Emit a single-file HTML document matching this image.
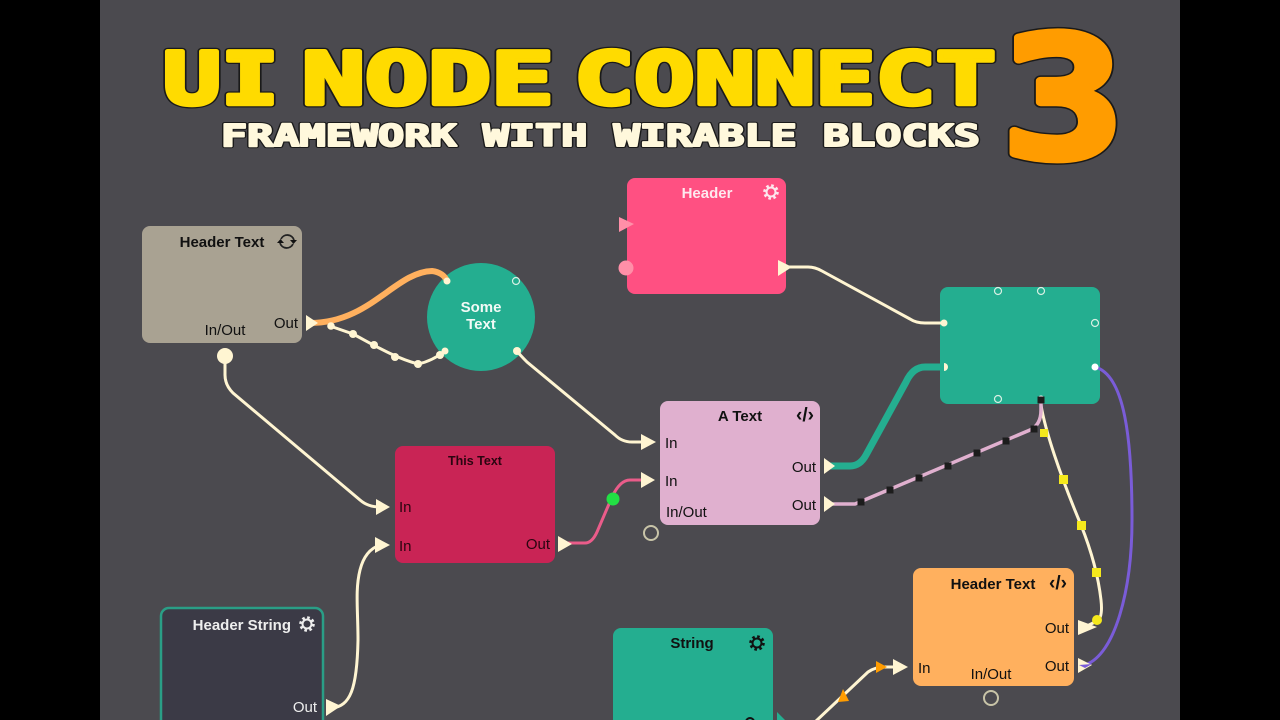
<!DOCTYPE html>
<html><head><meta charset="utf-8"><style>
html,body{margin:0;padding:0;background:#000;width:1280px;height:720px;overflow:hidden}
svg{display:block}
text{font-family:"Liberation Sans",sans-serif}
.l{font-size:15px;fill:#111}
.b{font-size:15px;font-weight:bold;fill:#111}
.m{font-family:"DejaVu Sans Mono","Liberation Mono",monospace;font-weight:bold;stroke-linejoin:round}
.t1{fill:#1a1a1a;stroke:#1a1a1a;stroke-width:7px}
.t2{fill:#ffdb00;stroke:#ffdb00;stroke-width:4.5px}
.s1{fill:#1a1a1a;stroke:#1a1a1a;stroke-width:4px}
.s2{fill:#fff8dc;stroke:#fff8dc;stroke-width:2px}
.w{fill:none;stroke:#fff5d2;stroke-width:3;stroke-linecap:round;stroke-linejoin:round}
.r{fill:none;stroke:#d8f0e4;stroke-width:1.2}
</style></head><body>
<svg width="1280" height="720" viewBox="0 0 1280 720" xmlns="http://www.w3.org/2000/svg">
<rect width="1280" height="720" fill="#000"/>
<rect x="100" width="1080" height="720" fill="#4b4a4f"/>

<!-- title -->
<g font-size="72">
<text class="m t1" x="163" y="104" textLength="116" lengthAdjust="spacingAndGlyphs">UI</text>
<text class="m t2" x="163" y="104" textLength="116" lengthAdjust="spacingAndGlyphs">UI</text>
<text class="m t1" x="302" y="104" textLength="252" lengthAdjust="spacingAndGlyphs">NODE</text>
<text class="m t2" x="302" y="104" textLength="252" lengthAdjust="spacingAndGlyphs">NODE</text>
<text class="m t1" x="574" y="104" textLength="422" lengthAdjust="spacingAndGlyphs">CONNECT</text>
<text class="m t2" x="574" y="104" textLength="422" lengthAdjust="spacingAndGlyphs">CONNECT</text>
</g>
<g font-size="30">
<text class="m s1" x="221" y="146" textLength="759" lengthAdjust="spacingAndGlyphs">FRAMEWORK WITH WIRABLE BLOCKS</text>
<text class="m s2" x="221" y="146" textLength="759" lengthAdjust="spacingAndGlyphs">FRAMEWORK WITH WIRABLE BLOCKS</text>
</g>
<g font-size="168">
<text class="m" x="1002" y="157" textLength="122" lengthAdjust="spacingAndGlyphs" style="fill:#1a1a1a;stroke:#1a1a1a;stroke-width:11px">3</text>
<text class="m" x="1002" y="157" textLength="122" lengthAdjust="spacingAndGlyphs" style="fill:#ff9c00;stroke:#ff9c00;stroke-width:8px">3</text>
</g>

<!-- nodes -->
<rect x="142" y="226" width="160" height="117" rx="8" fill="#a9a292"/>
<circle cx="481" cy="317" r="54" fill="#24ae90"/>
<rect x="627" y="178" width="159" height="116" rx="8" fill="#ff5082"/>
<rect x="940" y="287" width="160" height="117" rx="8" fill="#24ae90"/>
<rect x="660" y="401" width="160" height="124" rx="8" fill="#e0b0cf"/>
<rect x="395" y="446" width="160" height="117" rx="8" fill="#c92455"/>
<rect x="161" y="608" width="162" height="130" rx="8" fill="#3b3a46" stroke="#2a9e86" stroke-width="2.500"/>
<rect x="613" y="628" width="160" height="120" rx="8" fill="#24ae90"/>
<rect x="913" y="568" width="161" height="118" rx="8" fill="#ffb05e"/>

<!-- connectors -->
<path class="w" d="M225 356V375Q225 385 233 393L360 500Q368 507 380 507"/>
<path class="w" d="M517 351Q520 355 527 362L615 435Q622 442 632 442H645"/>
<path class="w" d="M785 267H808Q815 267 822 271L910 319Q916 323 925 323H944"/>
<path class="w" d="M332 708C350 706 357 690 358 640C358 610 355 590 360 570Q365 550 380 545"/>
<path class="w" d="M815 722L868 672Q875 667 885 667H897"/>
<path d="M330 326L353 334C372 344 395 358 418 364C428 362 436 358 445 351" fill="none" stroke="#fff5d2" stroke-width="3"/>
<path d="M310 323C370 323 395 272 432 271C440 272 445 276 447 281" fill="none" stroke="#ffb05e" stroke-width="6" stroke-linecap="round"/>
<path d="M567 543H585Q592 543 597 532L612 497Q620 480 630 480H647" fill="none" stroke="#ea5c8a" stroke-width="3"/>
<path d="M828 466H850Q860 466 866 455L906 382Q913 367 925 367H944" fill="none" stroke="#24ae90" stroke-width="7"/>
<path d="M1041 405C1045 430 1060 475 1081 525Q1097 565 1101 600Q1103 618 1097 621L1085 627" class="w"/>
<path d="M830 504H855L1030 430Q1041 425 1041 410V400" fill="none" stroke="#e0b0cf" stroke-width="3.5"/>
<path d="M1095 367C1125 375 1132 440 1132 520C1132 590 1115 655 1085 665" fill="none" stroke="#7a5cd8" stroke-width="3"/>

<!-- arrows -->
<g fill="#fff5d2">
<path d="M306 315V331L318 323Z"/>
<path d="M376 499L390 507L376 515Z"/>
<path d="M641 434L656 442L641 450Z"/>
<path d="M641 472L655 480L641 488Z"/>
<path d="M558 536V552L572 544Z"/>
<path d="M778 260V276L792 267Z"/>
<path d="M824 458V474L835 466Z"/>
<path d="M824 496V512L835 504Z"/>
<path d="M1078 620V635L1097 627Z"/>
<path d="M1078 658V673L1092 665Z"/>
<path d="M375 537L390 545L375 553Z"/>
<path d="M326 699L341 706L326 716Z"/>
<path d="M893 659L908 667L893 675Z"/>
<circle cx="225" cy="356" r="8"/>
<circle cx="447" cy="281" r="3.5"/>
<circle cx="445" cy="351" r="3.5"/>
<circle cx="517" cy="351" r="4"/>
<circle cx="944" cy="323" r="3.5"/>
<path d="M944 363A4 4 0 0 1 944 371Z"/>
<circle cx="331" cy="326" r="3.8"/><circle cx="353" cy="334" r="4"/><circle cx="374" cy="345" r="4"/><circle cx="395" cy="357" r="4"/><circle cx="418" cy="364" r="4"/><circle cx="440" cy="355" r="4"/>
</g>
<circle cx="1095" cy="367" r="3.5" fill="#fff"/>
<circle cx="1041" cy="399" r="3.5" fill="#fff"/>
<path d="M1079 665L1092 664L1085 668Z" fill="#7a5cd8"/>
<path d="M619 217V232L634 224Z" fill="#ff8fa8"/>
<circle cx="626" cy="268" r="7.5" fill="#ff8fa8"/>
<circle cx="613" cy="499" r="6.5" fill="#22e044"/>
<circle cx="651" cy="533" r="7" fill="none" stroke="#c8c4a8" stroke-width="2"/>
<circle cx="991" cy="698" r="7" fill="none" stroke="#c8c4a8" stroke-width="2"/>
<circle class="r" cx="516" cy="281" r="3.5"/>
<circle class="r" cx="998" cy="291" r="3.5"/>
<circle class="r" cx="1041" cy="291" r="3.5"/>
<circle class="r" cx="1095" cy="323" r="3.5"/>
<circle class="r" cx="998" cy="399" r="3.5"/>

<!-- squares -->
<g fill="#1c1c1c">
<rect x="857.500" y="498.500" width="7" height="7"/><rect x="886.500" y="486.500" width="7" height="7"/><rect x="915.500" y="474.500" width="7" height="7"/><rect x="944.500" y="462.500" width="7" height="7"/><rect x="973.500" y="449.500" width="7" height="7"/><rect x="1002.500" y="437.500" width="7" height="7"/><rect x="1030.500" y="425.500" width="7" height="7"/><rect x="1037.500" y="396.500" width="7" height="7"/>
</g>
<g fill="#f5e91c">
<rect x="1040" y="429" width="8" height="8"/><rect x="1059" y="475" width="9" height="9"/><rect x="1077" y="521" width="9" height="9"/><rect x="1092" y="568" width="9" height="9"/><circle cx="1097" cy="620" r="5"/>
</g>
<g fill="#ff9c00">
<path d="M843 689L849 701L838 702Z"/>
<path d="M876 661L887 667L876 673Z"/>
</g>
<path d="M777 712L785 720H777Z" fill="#24ae90"/>
<circle cx="750" cy="722" r="4" fill="none" stroke="#111" stroke-width="2"/>

<!-- labels -->
<text class="b" x="222" y="247" text-anchor="middle">Header Text</text>
<text class="l" x="298" y="328" text-anchor="end">Out</text>
<text class="l" x="225" y="335" text-anchor="middle">In/Out</text>
<text class="b" x="481" y="312" text-anchor="middle" style="fill:#f2faf6">Some</text>
<text class="b" x="481" y="329" text-anchor="middle" style="fill:#f2faf6">Text</text>
<text class="b" x="707" y="198" text-anchor="middle" style="fill:#fde8ee">Header</text>
<text class="b" x="740" y="421" text-anchor="middle">A Text</text>
<text class="l" x="665" y="448">In</text>
<text class="l" x="665" y="486">In</text>
<text class="l" x="666" y="517">In/Out</text>
<text class="l" x="816" y="472" text-anchor="end">Out</text>
<text class="l" x="816" y="510" text-anchor="end">Out</text>
<text x="475" y="465" text-anchor="middle" font-size="12.500" font-weight="bold" fill="#2a0510">This Text</text>
<text class="l" x="399" y="512" style="fill:#2a0510">In</text>
<text class="l" x="399" y="551" style="fill:#2a0510">In</text>
<text class="l" x="550" y="549" text-anchor="end" style="fill:#2a0510">Out</text>
<text class="b" x="291" y="630" text-anchor="end" style="fill:#eee">Header String</text>
<text class="l" x="317" y="712" text-anchor="end" style="fill:#eee">Out</text>
<text class="b" x="692" y="648" text-anchor="middle">String</text>
<text class="b" x="993" y="589" text-anchor="middle">Header Text</text>
<text class="l" x="1069" y="633" text-anchor="end">Out</text>
<text class="l" x="1069" y="671" text-anchor="end">Out</text>
<text class="l" x="918" y="673">In</text>
<text class="l" x="991" y="679" text-anchor="middle">In/Out</text>
<text class="b" x="805" y="421" text-anchor="middle" style="font-size:19px">‹/›</text>
<text class="b" x="1058" y="589" text-anchor="middle" style="font-size:19px">‹/›</text>

<!-- icons -->
<g fill="none">
<g stroke="#fde8ee"><circle cx="771" cy="192" r="4.500" stroke-width="2"/><circle cx="771" cy="192" r="6.500" stroke-width="2.600" stroke-dasharray="2.600 2.500"/></g>
<g stroke="#eee"><circle cx="307" cy="624" r="4.500" stroke-width="2"/><circle cx="307" cy="624" r="6.500" stroke-width="2.600" stroke-dasharray="2.600 2.500"/></g>
<g stroke="#111"><circle cx="757" cy="643" r="4.500" stroke-width="2"/><circle cx="757" cy="643" r="6.500" stroke-width="2.600" stroke-dasharray="2.600 2.500"/></g>
<path d="M281 239A7 7 0 0 1 294 240M293 244A7 7 0 0 1 280 243" stroke="#222" stroke-width="1.800"/>
</g>
<path d="M290 240H297L293.500 244Z M277 243H284L280.500 239Z" fill="#111"/>
</svg>
</body></html>
